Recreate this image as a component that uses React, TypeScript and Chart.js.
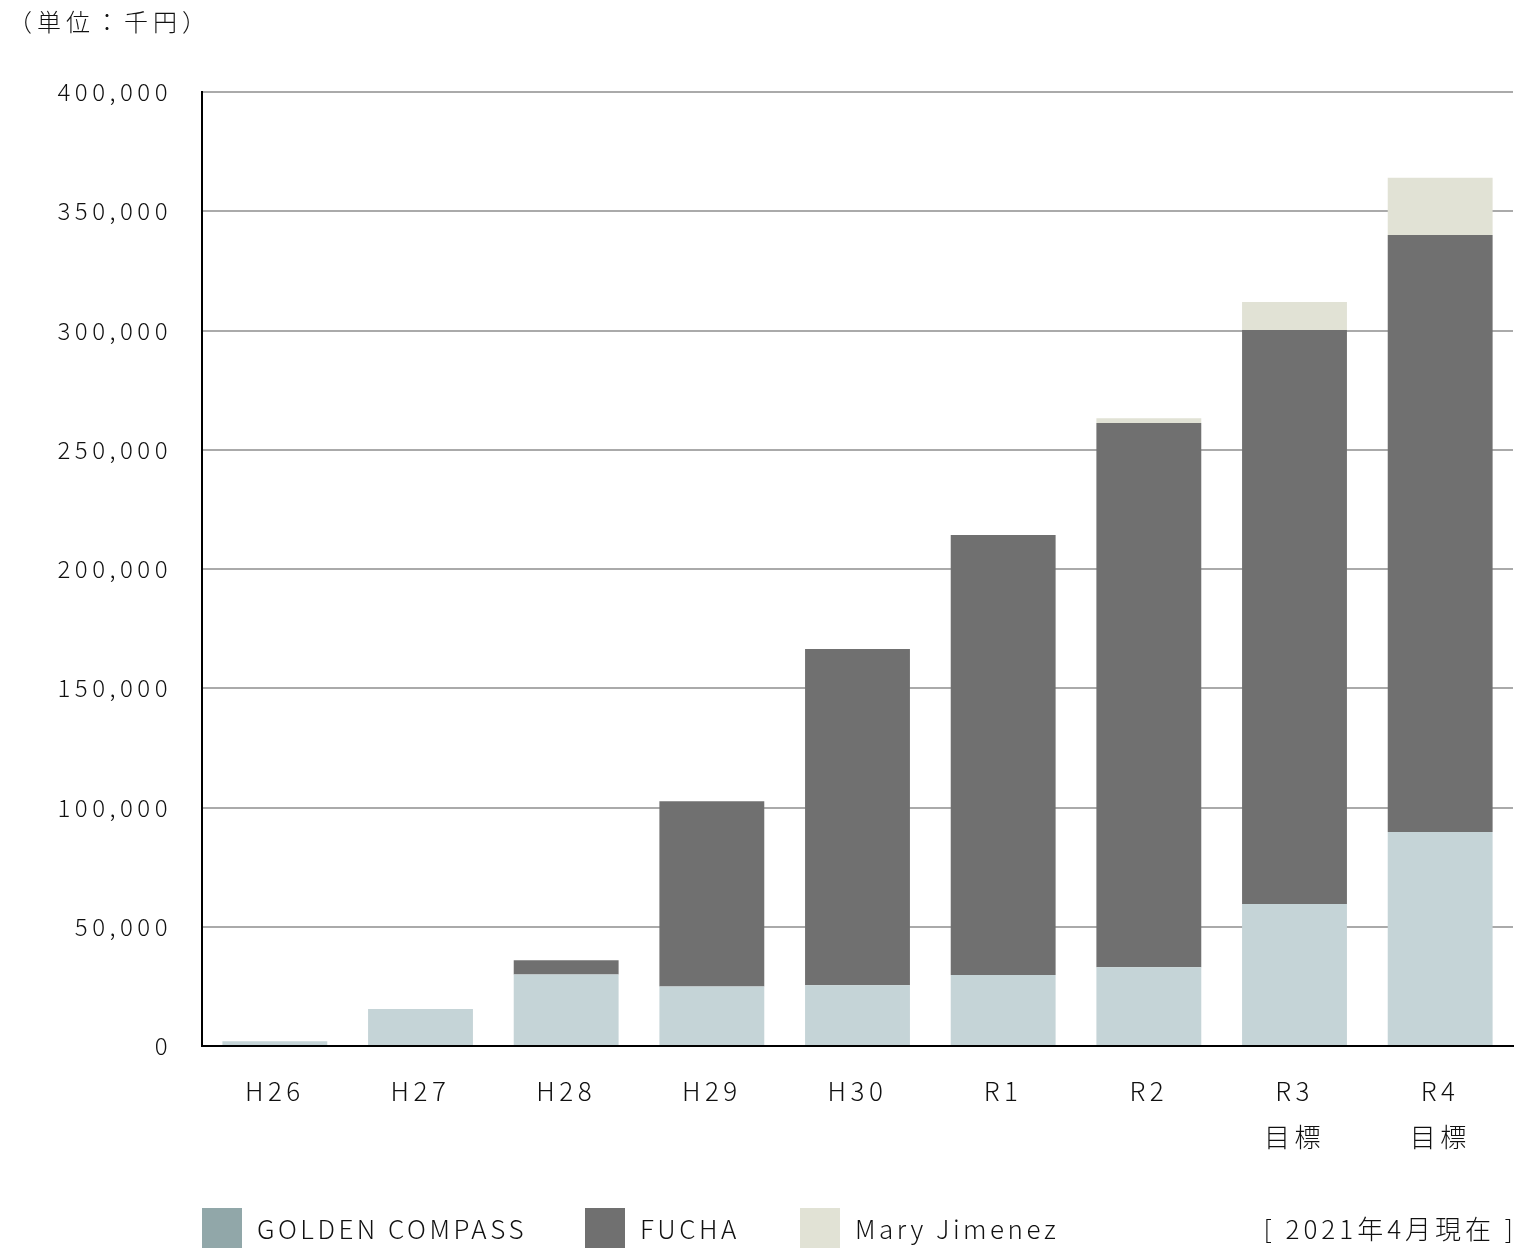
import { useEffect, useRef } from 'react';
import { Chart, registerables } from 'chart.js';

Chart.register(...registerables);

const categories: string[][] = [['H26'], ['H27'], ['H28'], ['H29'], ['H30'], ['R1'], ['R2'], ['R3', '目標'], ['R4', '目標']];
const goldenCompass = [2000, 15500, 30000, 25000, 25500, 29800, 33000, 59500, 89700];
const fucha = [0, 0, 6000, 77600, 141000, 184500, 228200, 240700, 250300];
const maryJimenez = [0, 0, 0, 0, 0, 0, 2000, 11700, 24000];
const yMax = 400000;
const yStep = 50000;
const unitLabel = '（単位：千円）';
const noteLabel = '[ 2021年4月現在 ]';
const seriesNames = ['GOLDEN COMPASS', 'FUCHA', 'Mary Jimenez'];
const barColors = ['#c5d4d7', '#707070', '#e1e2d5'];
const legendColors = ['#91a7a9', '#707070', '#e1e2d5'];

const FONT = "'Noto Sans CJK JP', 'Noto Sans', sans-serif";
const TEXT = '#111111';
const SPACING = '4.5px';

const extras = {
  id: 'extras',
  beforeUpdate(chart: any) {
    chart.ctx.letterSpacing = SPACING;
  },
  beforeDraw(chart: any) {
    chart.ctx.letterSpacing = SPACING;
  },
  afterDraw(chart: any) {
    const ctx = chart.ctx as CanvasRenderingContext2D;
    ctx.save();
    (ctx as any).letterSpacing = '5px';
    ctx.fillStyle = TEXT;
    ctx.textBaseline = 'middle';
    ctx.textAlign = 'left';
    ctx.font = `300 24px ${FONT}`;
    ctx.fillText(unitLabel, 0, 14);

    (ctx as any).letterSpacing = '3.5px';
    const legendX = [194, 577, 792];
    ctx.font = `300 26px ${FONT}`;
    seriesNames.forEach((name, i) => {
      ctx.fillStyle = legendColors[i];
      ctx.fillRect(legendX[i], 1200, 40, 40);
      ctx.fillStyle = TEXT;
      ctx.fillText(name, legendX[i] + 55, 1221);
    });
    (ctx as any).letterSpacing = '4px';
    ctx.textAlign = 'right';
    ctx.fillText(noteLabel, 1509, 1221);
    ctx.restore();
  },
};

export default function App() {
  const ref = useRef<HTMLCanvasElement>(null);
  useEffect(() => {
    if (!ref.current) return;
    const chart = new Chart(ref.current, {
      type: 'bar',
      data: {
        labels: categories,
        datasets: [
          { label: seriesNames[0], data: goldenCompass, backgroundColor: barColors[0] },
          { label: seriesNames[1], data: fucha, backgroundColor: barColors[1] },
          { label: seriesNames[2], data: maryJimenez, backgroundColor: barColors[2] },
        ],
      },
      options: {
        animation: false,
        responsive: false,
        devicePixelRatio: 1,
        layout: { padding: { top: 84, right: 11, left: 0, bottom: 0 } },
        datasets: { bar: { categoryPercentage: 1, barPercentage: 0.72 } },
        plugins: { legend: { display: false }, tooltip: { enabled: false }, title: { display: false } },
        scales: {
          x: {
            stacked: true,
            grid: { display: false, drawTicks: false },
            border: { color: '#000', width: 2 },
            ticks: { color: TEXT, font: { family: FONT, size: 26, weight: '300', lineHeight: 1.77 }, padding: 22, maxRotation: 0 },
            afterFit: (s: any) => { s.height = 202; },
          },
          y: {
            stacked: true,
            min: 0,
            max: yMax,
            grid: { color: '#aaaaaa', lineWidth: 2, drawTicks: false },
            border: { color: '#000', width: 2 },
            ticks: {
              stepSize: yStep,
              color: TEXT,
              padding: 30,
              labelOffset: 0,
              font: { family: FONT, size: 24, weight: '300' },
              callback: (v: any) => Number(v).toLocaleString('en-US'),
            },
            afterFit: (s: any) => { s.width = 194; },
          },
        },
      },
      plugins: [extras],
    } as any);
    return () => chart.destroy();
  }, []);
  return <canvas ref={ref} width={1516} height={1240} style={{ display: 'block' }} />;
}
